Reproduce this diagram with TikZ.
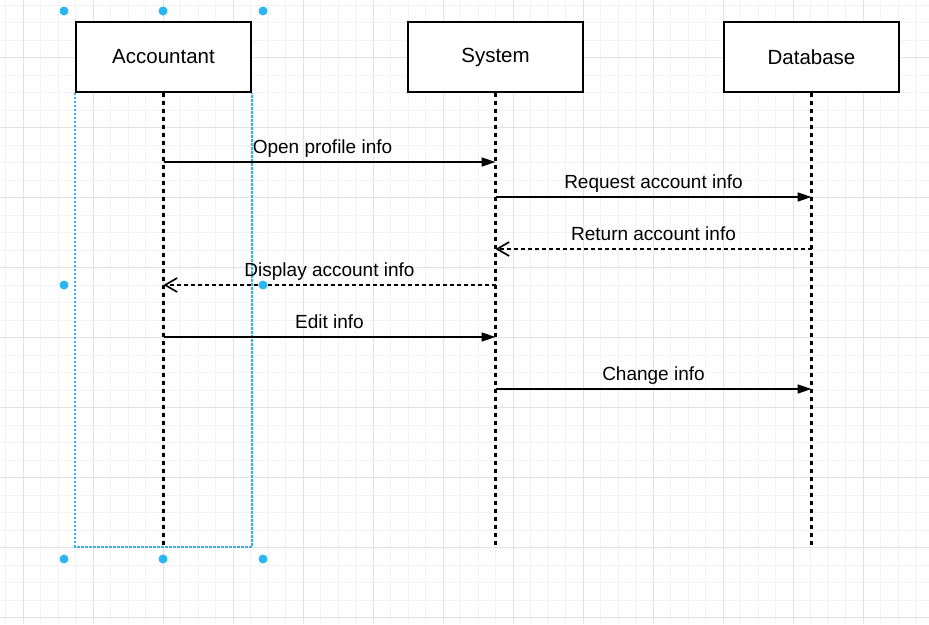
\documentclass[tikz,border=0pt]{standalone}
\usepackage{fontspec}
\setmainfont{Liberation Sans}
\usetikzlibrary{arrows.meta,positioning}
\definecolor{handle}{HTML}{29B6F2}
\definecolor{gridmajor}{HTML}{E2E2E2}
\definecolor{gridminor}{HTML}{F3F3F3}

\begin{document}
\begin{tikzpicture}[x=1pt, y=-1pt,
    actor/.style={draw, line width=1.8pt, minimum width=175pt, minimum height=70pt,
        fill=white, font=\fontsize{20.5}{24}\selectfont},
    lifeline/.style={line width=2.2pt, dash pattern=on 4.5pt off 3.5pt},
    call/.style={-{Triangle[length=14pt,width=9pt]}, line width=1.6pt},
    reply/.style={-{Straight Barb[length=12pt,width=14pt]}, line width=1.7pt, dash pattern=on 4pt off 3pt},
    msg/.style={above, text depth=4pt, font=\fontsize{19}{22}\selectfont},
    selection/.style={draw=handle, line width=1.3pt, dash pattern=on 2.5pt off 1.5pt}]

    \useasboundingbox (0,0) rectangle (929,624);

    % background grid
    \foreach \i in {0,...,53}
        \draw[gridminor, line width=1pt] (5.83+17.5*\i,0) -- ++(0,624);
    \foreach \i in {0,...,35}
        \draw[gridminor, line width=1pt] (0,5.2+17.5*\i) -- ++(929,0);
    \foreach \i in {0,...,12}
        \draw[gridmajor, line width=1pt] (23.33+70*\i,0) -- ++(0,624);
    \foreach \i in {0,...,8}
        \draw[gridmajor, line width=1pt] (0,57.7+70*\i) -- ++(929,0);

    \node[actor] (acc) at (163.5, 57) {Accountant};
    \node[actor] (sys) at (495.5, 57) {System};
    \node[actor] (db)  at (811.5, 57) {Database};

    \coordinate (accEnd) at (163.5, 547);
    \coordinate (sysEnd) at (495.5, 547);
    \coordinate (dbEnd)  at (811.5, 547);

    % selection frame
    \draw[selection] (acc.south west) -- (acc.south west |- accEnd) -- (accEnd -| acc.south east) -- (acc.south east);

    \draw[lifeline] (acc) -- (accEnd);
    \draw[lifeline] (sys) -- (sysEnd);
    \draw[lifeline] (db)  -- (dbEnd);

    % message rows
    \coordinate (open)    at (0, 162);
    \coordinate (request) at (0, 197);
    \coordinate (return)  at (0, 249);
    \coordinate (display) at (0, 285);
    \coordinate (edit)    at (0, 337);
    \coordinate (change)  at (0, 389);

    \draw[call]  (acc |- open)    -- node[msg, xshift=-7pt] {Open profile info} (sys |- open);
    \draw[call]  (sys |- request) -- node[msg] {Request account info} (db |- request);
    \draw[reply] (db |- return)   -- node[msg] {Return account info} (sys |- return);
    \draw[reply] (sys |- display) -- node[msg] {Display account info} (acc |- display);
    \draw[call]  (acc |- edit)    -- node[msg] {Edit info} (sys |- edit);
    \draw[call]  (sys |- change)  -- node[msg] {Change info} (db |- change);

    % selection handles
    \foreach \hx in {64,163,263}
        \foreach \hy in {11,559}
            \fill[handle] (\hx,\hy) circle (4.5pt);
    \fill[handle] (64,285) circle (4.5pt);
    \fill[handle] (263,285) circle (4.5pt);
\end{tikzpicture}
\end{document}
